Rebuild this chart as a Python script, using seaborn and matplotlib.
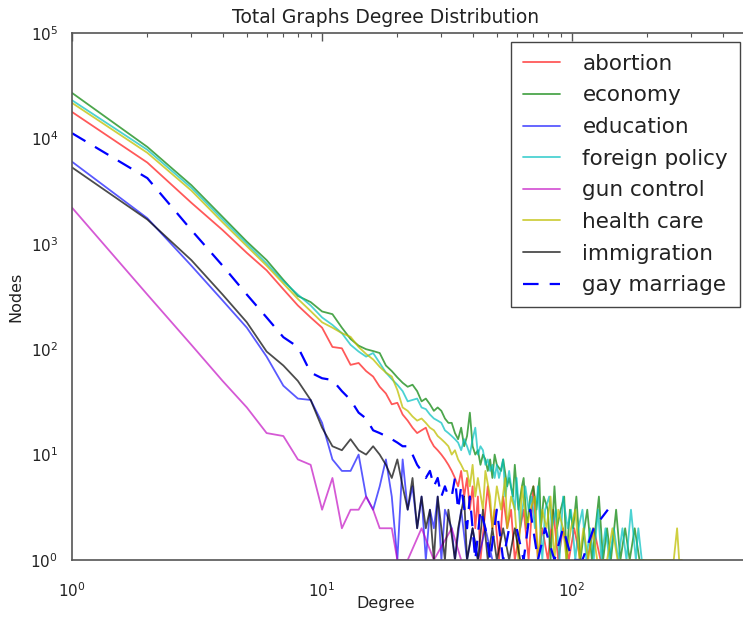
import matplotlib
matplotlib.use("Agg")
import matplotlib.pyplot as plt
import seaborn as sns
import pandas as pd

# ---------------- data ----------------
abortion_deg = list(range(1, 41)) + [41, 42, 43, 45, 46, 48, 49, 51, 53, 55, 57, 59, 62, 64, 67,
                                     70, 73, 76, 80, 84, 88, 92, 97, 102, 108, 115, 122, 130, 138]
abortion_cnt = [17800, 5900, 2450, 1350, 820, 560, 370, 260, 200, 160,
                105, 102, 71, 74, 62, 55, 44, 38, 30, 31,
                24, 21, 18, 16, 17, 18, 14, 12, 11, 10,
                9, 8, 7, 6, 5, 7, 4, 6, 3, 5,
                2, 4, 1, 3, 5, 2, 3, 1, 4, 2, 3, 1, 2, 3, 1,
                5, 1, 2, 1, 3, 1, 2, 1, 2, 1, 1, 2, 1, 1]

economy_deg = list(range(1, 51)) + [52, 53, 55, 56, 58, 59, 61, 63, 64, 66, 68, 70, 72, 74, 75, 77,
                                    80, 82, 85, 87, 90, 93, 95, 98, 101, 104, 108, 112, 115, 120,
                                    124, 128, 133, 138, 143, 150, 156, 163, 170, 178, 186, 193]
economy_cnt = [27000, 8300, 3600, 1800, 1050, 700, 455, 320, 280, 228,
               215, 160, 125, 108, 100, 96, 92, 70, 62, 54,
               48, 44, 46, 40, 32, 34, 30, 26, 28, 26,
               22, 20, 20, 16, 14, 18, 12, 15, 25, 12,
               10, 11, 8, 10, 9, 7, 9, 6, 10, 8,
               7, 9, 5, 6, 4, 8, 3, 5, 6, 2, 4, 5, 3, 6, 2, 4,
               3, 1, 5, 2, 3, 4, 1, 3, 2, 4, 1, 2, 3, 1,
               2, 4, 1, 2, 1, 3, 1, 2, 1, 2, 1, 1]

education_deg = list(range(1, 28)) + [28, 29, 30, 31, 33, 34, 36, 38, 40, 42, 45, 48, 52, 56]
education_cnt = [6000, 1750, 620, 290, 160, 85, 45, 34, 33, 20,
                 9, 7, 7, 10, 4, 3, 5, 9, 4, 1,
                 9, 3, 5, 2, 4, 1, 3,
                 2, 4, 1, 3, 2, 1, 3, 1, 2, 1, 2, 1, 1, 1]

foreign_deg = list(range(1, 51)) + [51, 53, 54, 56, 57, 59, 60, 62, 65, 67, 69, 71, 73, 76, 78, 81,
                                    83, 86, 89, 92, 96, 99, 103, 106, 110, 114, 118, 122, 127, 131,
                                    136, 141, 147, 153, 159, 165, 172, 180, 184, 190]
foreign_cnt = [23000, 7800, 3400, 1700, 1000, 650, 440, 330, 260, 200,
               170, 142, 110, 95, 85, 92, 74, 60, 52, 46,
               40, 32, 33, 34, 28, 27, 24, 22, 21, 20,
               17, 16, 15, 14, 13, 11, 14, 12, 10, 14,
               18, 10, 12, 11, 8, 9, 7, 8, 6, 8,
               6, 9, 4, 7, 5, 3, 6, 2, 5, 3, 4, 2, 5, 1, 3, 4,
               2, 3, 1, 4, 2, 3, 1, 2, 3, 1, 2, 1, 3, 1,
               2, 1, 2, 1, 2, 1, 3, 1, 2, 1]

gun_deg = list(range(1, 21)) + [22, 25, 28, 33, 36]
gun_cnt = [2200, 330, 110, 50, 28, 16, 15, 9, 8, 3,
           6, 2, 3, 3, 4, 3, 2, 2, 2, 1,
           1, 2, 1, 2, 1]

health_deg = list(range(1, 39)) + [39, 40, 41, 42, 44, 45, 47, 48, 50, 52, 54, 55, 57, 59, 61, 63,
                                   66, 68, 71, 73, 76, 79, 82, 85, 88, 92, 95, 99, 103, 107, 111,
                                   116, 121, 126, 132, 138, 145, 152, 160, 250, 255, 263, 268, 275]
health_cnt = [21700, 7300, 3200, 1600, 950, 620, 420, 300, 230, 180,
              160, 142, 131, 105, 90, 80, 68, 60, 55, 41,
              28, 26, 23, 21, 22, 20, 18, 17, 15, 14,
              13, 12, 10, 11, 9, 8, 7, 7,
              5, 8, 4, 6, 3, 7, 4, 2, 5, 3, 6, 2, 4, 3, 1, 5,
              2, 3, 4, 1, 3, 2, 4, 1, 3, 2, 1, 2, 3, 1, 2,
              1, 2, 1, 1, 1, 2, 1, 1, 1, 1, 2, 1, 1]

immigration_deg = list(range(1, 26)) + [26, 27, 28, 29, 30, 31, 32, 34, 35, 37, 38, 40, 42, 44, 46,
                                        48, 50, 53, 56, 59, 62, 66]
immigration_cnt = [5300, 1700, 700, 330, 180, 95, 70, 50, 33, 18,
                   12, 11, 14, 11, 10, 12, 10, 8, 6, 9,
                   5, 3, 6, 2, 4,
                   2, 3, 1, 4, 2, 1, 3, 1, 2, 4, 1, 2, 1, 3, 1,
                   2, 1, 2, 1, 2, 1, 1]

gay_deg = list(range(1, 33)) + [33, 34, 35, 36, 38, 39, 41, 43, 45, 47, 50, 53, 56, 60, 64, 68,
                                73, 78, 85, 92, 100, 110, 122, 139]
gay_cnt = [11200, 4200, 1350, 620, 330, 200, 130, 105, 60, 53,
           51, 40, 33, 25, 22, 17, 16, 15, 14, 13,
           12, 12, 10, 8, 7, 6, 7, 5, 6, 4,
           5, 4,
           4, 6, 3, 5, 2, 4, 1, 3, 2, 1, 3, 1, 2, 2, 1, 3,
           1, 2, 1, 2, 1, 1, 2, 3]

names = ["abortion", "economy", "education", "foreign policy", "gun control",
         "health care", "immigration", "gay marriage"]
degs = [abortion_deg, economy_deg, education_deg, foreign_deg, gun_deg,
        health_deg, immigration_deg, gay_deg]
cnts = [abortion_cnt, economy_cnt, education_cnt, foreign_cnt, gun_cnt,
        health_cnt, immigration_cnt, gay_cnt]
colors = ["#ff0000", "#008000", "#0000ff", "#00bfbf", "#bf00bf",
          "#bfbf00", "#000000", "#0000ff"]
styles = ["-", "-", "-", "-", "-", "-", "-", (0, (7, 5))]
alphas = [0.65, 0.7, 0.65, 0.7, 0.65, 0.75, 0.7, 1.0]

# ---------------- figure ----------------
sns.set_theme(style="white")
plt.rcParams['font.family'] = ['DejaVu Sans']

fig = plt.figure(figsize=(7.43, 6.17), dpi=100)
ax = fig.add_axes([0.097, 0.0924, 0.9125, 0.8541])

for name, d, c, col, ls, a in zip(names, degs, cnts, colors, styles, alphas):
    df = pd.DataFrame({"Degree": d, "Nodes": c})
    sns.lineplot(data=df, x="Degree", y="Nodes", ax=ax, color=col, linestyle=ls,
                 alpha=a, linewidth=1.3 if ls == "-" else 1.6, label=name,
                 estimator=None, sort=False)

ax.set_xscale("log")
ax.set_yscale("log")
ax.set_xlim(1, 515)
ax.set_ylim(1, 1e5)

for sp in ax.spines.values():
    sp.set_color("#555555")
    sp.set_linewidth(1.2)
ax.tick_params(which="both", direction="in", top=True, right=False, colors="#555555",
               labelcolor="#222222", labelsize=11)
ax.tick_params(which="major", length=6, width=1)
ax.tick_params(which="minor", length=3, width=0.8)
ax.tick_params(axis="x", pad=15)
ax.tick_params(axis="y", pad=10)

ax.set_title("Total Graphs Degree Distribution", fontsize=13.5, color="#222222",
             x=0.463, pad=7)
ax.set_xlabel("Degree", fontsize=11.5, color="#222222")
ax.set_ylabel("Nodes", fontsize=11.5, color="#222222")
ax.xaxis.set_label_coords(0.463, -0.068)
ax.yaxis.set_label_coords(-0.072, 0.5)

leg = ax.legend(loc="upper right", bbox_to_anchor=(0.985, 0.983), fontsize=15.5,
                frameon=True, fancybox=False, edgecolor="#444444", framealpha=1,
                handlelength=1.7, labelspacing=0.54, borderpad=0.55, handletextpad=1.05,
                borderaxespad=0.0)
leg.get_frame().set_linewidth(1.0)
for t in leg.get_texts():
    t.set_color("#222222")

fig.savefig("out.png", dpi=100)
